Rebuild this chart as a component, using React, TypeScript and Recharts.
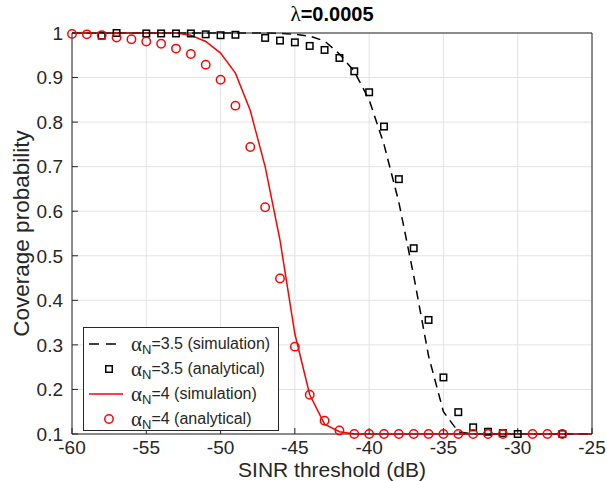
import React from 'react';
import {
  ComposedChart,
  Line,
  Scatter,
  XAxis,
  YAxis,
  CartesianGrid,
  Legend,
  Label,
} from 'recharts';

// ---------- data ----------
const xTicks = [-60, -55, -50, -45, -40, -35, -30, -25];
const yTicks = [0.1, 0.2, 0.3, 0.4, 0.5, 0.6, 0.7, 0.8, 0.9, 1];

// alpha_N = 3.5 simulation (black dashed)
const sim35X = [-60, -59, -58, -57, -56, -55, -54, -53, -52, -51, -50, -49, -48, -47, -46, -45, -44, -43, -42, -41, -40, -39, -38, -37, -36, -35, -34, -33, -32, -31, -30, -29, -28, -27, -26, -25];
const sim35Y = [1, 1, 1, 1, 1, 1, 1, 1, 1, 1, 1, 1, 1, 1, 0.999, 0.997, 0.993, 0.982, 0.953, 0.914, 0.85, 0.75, 0.62, 0.455, 0.275, 0.15, 0.105, 0.1, 0.1, 0.1, 0.1, 0.1, 0.1, 0.1, 0.1, 0.1];

// alpha_N = 3.5 analytical (black squares)
const ana35X = [-58, -57, -55, -54, -53, -52, -51, -50, -49, -47, -46, -45, -44, -43, -42, -41, -40, -39, -38, -37, -36, -35, -34, -33, -32, -31, -30, -27];
const ana35Y = [0.994, 1, 0.999, 0.999, 0.999, 0.999, 0.997, 0.995, 0.996, 0.989, 0.983, 0.979, 0.971, 0.962, 0.944, 0.914, 0.867, 0.79, 0.672, 0.517, 0.356, 0.227, 0.149, 0.115, 0.105, 0.102, 0.1, 0.1];

// alpha_N = 4 simulation (red solid)
const sim4X = [-60, -59, -58, -57, -56, -55, -54, -53, -52, -51, -50, -49, -48, -47, -46, -45, -44, -43, -42, -41, -40, -39, -38, -37, -36, -35, -34, -33, -32, -31, -30, -29, -28, -27, -26, -25];
const sim4Y = [1, 1, 1, 1, 1, 1, 1, 1, 0.995, 0.981, 0.955, 0.91, 0.826, 0.7, 0.535, 0.325, 0.188, 0.122, 0.105, 0.1, 0.1, 0.1, 0.1, 0.1, 0.1, 0.1, 0.1, 0.1, 0.1, 0.1, 0.1, 0.1, 0.1, 0.1, 0.1, 0.1];

// alpha_N = 4 analytical (red circles)
const ana4X = [-60, -59, -58, -57, -56, -55, -54, -53, -52, -51, -50, -49, -48, -47, -46, -45, -44, -43, -42, -41, -40, -39, -38, -37, -36, -35, -34, -33, -32, -31, -29, -28, -27];
const ana4Y = [0.998, 0.997, 0.995, 0.99, 0.986, 0.981, 0.976, 0.965, 0.953, 0.929, 0.895, 0.837, 0.744, 0.609, 0.449, 0.296, 0.188, 0.13, 0.108, 0.1, 0.1, 0.1, 0.1, 0.1, 0.1, 0.1, 0.1, 0.1, 0.1, 0.1, 0.1, 0.1, 0.1];

const legendLabels = [
  { value: '3.5', note: '(simulation)' },
  { value: '3.5', note: '(analytical)' },
  { value: '4', note: '(simulation)' },
  { value: '4', note: '(analytical)' },
];

const zip = (xs: number[], ys: number[]) => xs.map((x, i) => ({ x, y: ys[i] }));
const sim35 = zip(sim35X, sim35Y);
const ana35 = zip(ana35X, ana35Y);
const sim4 = zip(sim4X, sim4Y);
const ana4 = zip(ana4X, ana4Y);

// ---------- styles ----------
const FONT = '"Liberation Sans", Arial, Helvetica, sans-serif';
const SERIF = '"Liberation Serif", "DejaVu Serif", serif';
const AXIS = '#262626';
const RED = '#ff0000';

const SquareShape = (props: any) => {
  const { cx, cy } = props;
  if (cx == null || cy == null) return <g />;
  return <rect x={cx - 3.25} y={cy - 3.25} width={6.5} height={6.5} fill="none" stroke="#000" strokeWidth={1.5} />;
};

const CircleShape = (props: any) => {
  const { cx, cy } = props;
  if (cx == null || cy == null) return <g />;
  return <circle cx={cx} cy={cy} r={4.2} fill="none" stroke={RED} strokeWidth={1.5} />;
};

const LegendIcon = ({ idx }: { idx: number }) => (
  <svg width={40} height={14} style={{ display: 'block' }}>
    {idx === 0 && <line x1={4} y1={7} x2={38} y2={7} stroke="#000" strokeWidth={1.5} strokeDasharray="10 7" />}
    {idx === 1 && <rect x={20.75} y={3.75} width={6.5} height={6.5} fill="none" stroke="#000" strokeWidth={1.5} />}
    {idx === 2 && <line x1={4} y1={7} x2={38} y2={7} stroke={RED} strokeWidth={1.5} />}
    {idx === 3 && <circle cx={24} cy={7} r={4.2} fill="none" stroke={RED} strokeWidth={1.5} />}
  </svg>
);

const renderLegend = () => (
  <div
    style={{
      width: 196,
      height: 104,
      boxSizing: 'border-box',
      border: `1px solid ${AXIS}`,
      background: '#fff',
      paddingTop: 3,
      fontFamily: FONT,
      fontSize: 16,
      color: AXIS,
    }}
  >
    {legendLabels.map((l, i) => (
      <div key={i} style={{ display: 'flex', alignItems: 'center', height: 25, whiteSpace: 'nowrap' }}>
        <div style={{ width: 46, paddingLeft: 1 }}>
          <LegendIcon idx={i} />
        </div>
        <span style={{ fontFamily: SERIF, fontSize: 21, lineHeight: '20px' }}>α</span>
        <span style={{ fontSize: 13, position: 'relative', top: 6 }}>N</span>
        <span>={l.value} {l.note}</span>
      </div>
    ))}
  </div>
);

export default function App() {
  return (
    <div style={{ position: 'absolute', left: 0, top: 0, width: 607, height: 481, background: '#fff' }}>
      <ComposedChart width={607} height={481} margin={{ top: 32, right: 14, bottom: 0, left: 0 }}>
        <CartesianGrid stroke="#e3e3e3" strokeWidth={1} />
        <XAxis
          type="number"
          dataKey="x"
          domain={[-60, -25]}
          ticks={xTicks}
          interval={0}
          height={47}
          stroke={AXIS}
          tickSize={-6}
          tickMargin={13}
          tick={{ fill: AXIS, fontSize: 19, fontFamily: FONT }}
        >
          <Label
            content={(p: any) => {
              const vb = p.viewBox || { x: 72, y: 434, width: 520, height: 47 };
              return (
                <text x={vb.x + vb.width / 2} y={vb.y + 43} textAnchor="middle" fill={AXIS} fontSize={21} fontFamily={FONT}>
                  SINR threshold (dB)
                </text>
              );
            }}
          />
        </XAxis>
        <XAxis
          xAxisId="top"
          orientation="top"
          type="number"
          dataKey="x"
          domain={[-60, -25]}
          ticks={xTicks}
          interval={0}
          height={1}
          stroke={AXIS}
          tickSize={-6}
          tick={false}
        >
          <Label
            content={(p: any) => {
              const vb = p.viewBox || { x: 72, y: 32, width: 520, height: 1 };
              return (
                <text x={vb.x + vb.width / 2} y={vb.y + vb.height - 12} textAnchor="middle" fill="#000" fontSize={20} fontFamily={FONT}>
                  <tspan fontFamily={SERIF} fontSize={21}>λ</tspan>
                  <tspan fontWeight="bold">=0.0005</tspan>
                </text>
              );
            }}
          />
        </XAxis>
        <YAxis
          type="number"
          dataKey="y"
          domain={[0.1, 1]}
          ticks={yTicks}
          interval={0}
          width={72}
          stroke={AXIS}
          tickSize={-6}
          tickMargin={15}
          tickFormatter={(v: number) => (v === 1 ? '1' : v.toFixed(1))}
          tick={{ fill: AXIS, fontSize: 19, fontFamily: FONT }}
        >
          <Label
            content={(p: any) => {
              const vb = p.viewBox || { x: 0, y: 33, width: 72, height: 401 };
              const cx = vb.x + 29;
              const cy = vb.y + vb.height / 2;
              return (
                <text x={cx} y={cy} transform={`rotate(-90 ${cx} ${cy})`} textAnchor="middle" fill={AXIS} fontSize={22.5} fontFamily={FONT}>
                  Coverage probability
                </text>
              );
            }}
          />
        </YAxis>
        <YAxis
          yAxisId="right"
          orientation="right"
          type="number"
          dataKey="y"
          domain={[0.1, 1]}
          ticks={yTicks}
          interval={0}
          width={1}
          stroke={AXIS}
          tickSize={-6}
          tick={false}
        />
        <Line
          data={sim35}
          dataKey="y"
          type="linear"
          stroke="#000"
          strokeWidth={1.5}
          strokeDasharray="9 6"
          dot={false}
          activeDot={false}
          isAnimationActive={false}
          name="sim35"
        />
        <Scatter data={ana35} dataKey="y" shape={SquareShape} isAnimationActive={false} name="ana35" />
        <Line
          data={sim4}
          dataKey="y"
          type="linear"
          stroke={RED}
          strokeWidth={1.5}
          dot={false}
          activeDot={false}
          isAnimationActive={false}
          name="sim4"
        />
        <Scatter
          data={ana4}
          dataKey="y"
          xAxisId="top"
          yAxisId="right"
          shape={CircleShape}
          isAnimationActive={false}
          name="ana4"
        />
        <Legend
          layout="vertical"
          align="center"
          verticalAlign="middle"
          content={renderLegend}
          wrapperStyle={{ position: 'absolute', left: 83, top: 327, width: 196, height: 104 }}
        />
      </ComposedChart>
    </div>
  );
}
